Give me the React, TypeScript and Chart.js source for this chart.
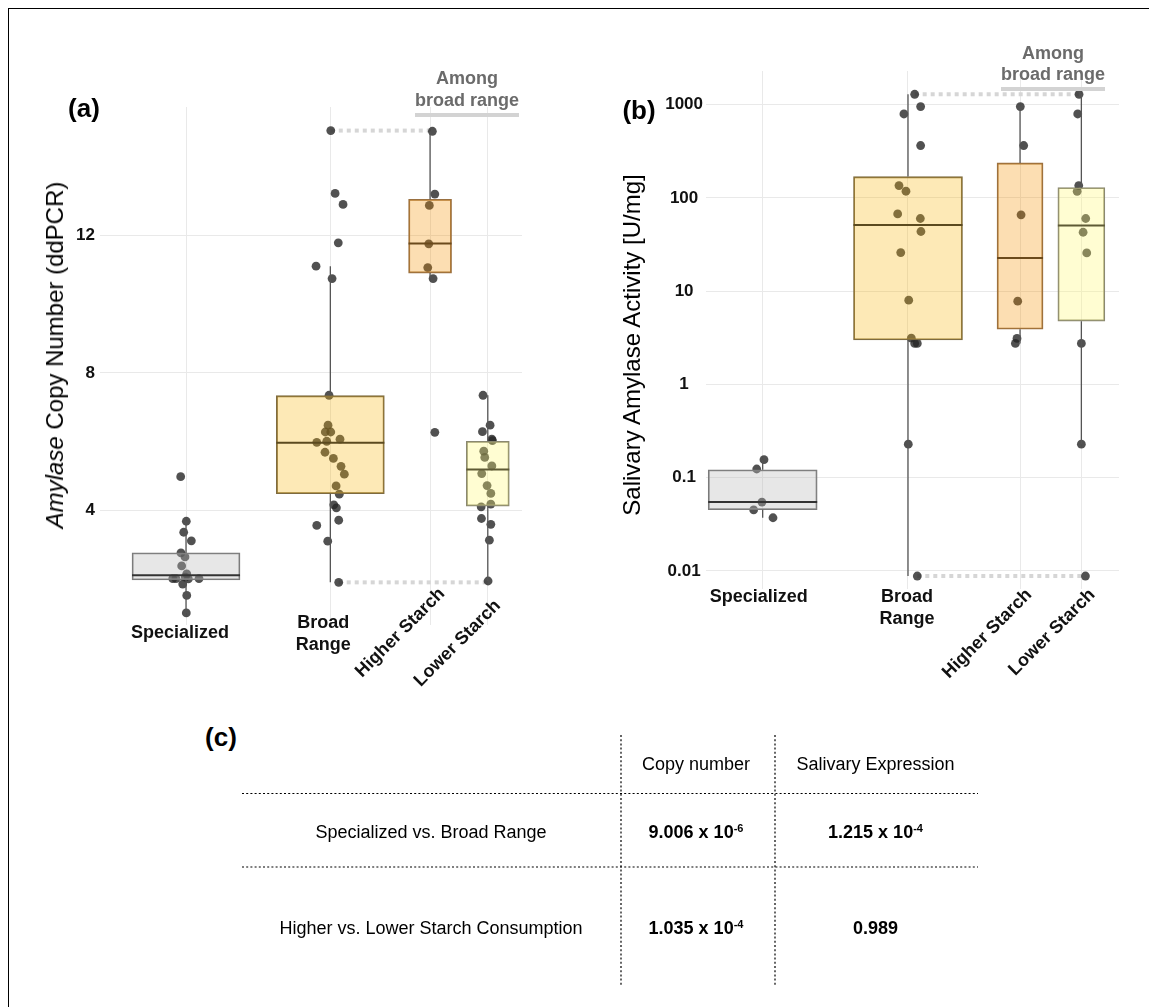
import React, { useEffect, useRef } from "react";
import { Chart, registerables } from "chart.js";

Chart.register(...registerables);

const FONT = '"Liberation Sans", Arial, Helvetica, sans-serif';

// ---------- categories ----------
const groupNames = ["Specialized", "Broad Range", "Higher Starch", "Lower Starch"];

// ---------- panel (a): copy number ----------
const positionsA = [1, 2, 2.691, 3.091];
const specA = [4.98, 3.68, 3.36, 3.11, 2.76, 2.64, 2.38, 2.15, 2.01, 2.01, 2.05, 2.0, 2.01, 1.85, 1.52, 1.01];
const specAJit = [-0.037, 0.002, -0.016, 0.037, -0.035, -0.007, -0.03, 0.005, -0.092, -0.07, -0.005, 0.016, 0.09, -0.023, 0.005, 0.002];
const broadA = [15.06, 13.23, 12.91, 11.79, 11.11, 10.75, 7.35, 6.48, 6.28, 6.28, 5.98, 6.01, 6.07, 5.69, 5.51, 5.28, 5.05, 4.71, 4.47, 4.16, 4.07, 3.71, 3.56, 3.1, 1.9];
const broadAJit = [0.003, 0.033, 0.088, 0.055, -0.099, 0.012, -0.009, -0.016, -0.035, 0.003, -0.094, -0.025, 0.067, -0.037, 0.021, 0.074, 0.097, 0.04, 0.062, 0.024, 0.042, 0.058, -0.094, -0.018, 0.058];
const higherA = [15.04, 13.21, 12.88, 11.76, 11.07, 10.75, 6.27];
const higherAJit = [0.016, 0.033, -0.005, -0.009, -0.016, 0.021, 0.033];
const lowerA = [7.35, 6.48, 6.29, 6.07, 6.03, 5.72, 5.54, 5.29, 5.07, 4.72, 4.49, 4.18, 4.1, 3.76, 3.59, 3.13, 1.94];
const lowerAJit = [-0.033, 0.016, -0.037, 0.028, 0.032, -0.028, -0.021, 0.028, -0.042, -0.005, 0.021, 0.021, -0.046, -0.044, 0.021, 0.011, 0.002];
const q1A = [1.97, 4.48, 10.91, 4.12];
const medA = [2.11, 5.97, 11.77, 5.19];
const q3A = [2.76, 7.34, 13.06, 6.01];
const loA = [1.01, 1.9, 10.75, 1.94];
const hiA = [3.68, 11.11, 15.04, 7.35];
const yTicksA = [4, 8, 12];
const yTickLabelsA = ["4", "8", "12"];

// ---------- panel (b): salivary amylase activity ----------
const positionsB = [1, 2, 2.771, 3.193];
const specB = [0.156, 0.124, 0.0548, 0.0453, 0.0372];
const specBJit = [0.009, -0.041, -0.005, -0.062, 0.071];
const broadB = [1290, 952, 793, 364, 135.6, 117.8, 67.3, 60.1, 43.6, 25.9, 8.0, 3.13, 2.75, 2.75, 0.229, 0.00883];
const broadBJit = [0.046, 0.087, -0.028, 0.087, -0.062, -0.014, -0.071, 0.085, 0.089, -0.05, 0.005, 0.023, 0.046, 0.064, 0.002, 0.064];
const higherB = [952, 364, 65.8, 7.8, 3.11, 2.75];
const higherBJit = [0.002, 0.025, 0.007, -0.016, -0.021, -0.032];
const lowerB = [1290, 793, 135.6, 117.5, 60.1, 42.8, 25.7, 2.75, 0.229, 0.00883];
const lowerBJit = [-0.016, -0.025, -0.018, -0.029, 0.03, 0.012, 0.037, 0, 0, 0.028];
const q1B = [0.0453, 3.0, 3.91, 4.77];
const medB = [0.0548, 51.3, 22.6, 50.5];
const q3B = [0.1216, 169, 237, 129];
const loB = [0.0372, 0.00883, 2.75, 0.229];
const hiB = [0.156, 1290, 952, 1290];
const yTicksB = [0.01, 0.1, 1, 10, 100, 1000];
const yTickLabelsB = ["0.01", "0.1", "1", "10", "100", "1000"];

// ---------- panel (c): p-value table ----------
const tableCols = ["Copy number", "Salivary Expression"];
const tableRows = ["Specialized vs. Broad Range", "Higher vs. Lower Starch Consumption"];
const pMantissa = [["9.006", "1.215"], ["1.035", "0.989"]];
const pExponent = [["-6", "-4"], ["-4", ""]];

// ---------- styles ----------
const BOX_FILL = ["rgba(185,185,185,0.35)", "rgba(248,183,12,0.30)", "rgba(245,145,0,0.30)", "rgba(255,248,115,0.32)"];
const BOX_BORDER = ["#7a7a7a", "#7d6a3f", "#9a7040", "#8a8870"];
const MEDIAN = ["#333333", "#5b4a1f", "#6b4a1c", "#5e5a35"];
const POINT = "rgba(38,38,38,0.8)";
const GRID = "#e9e9e9";

type Lab = { lines: string[]; rotate?: boolean; dx: number; dy: number };

type PanelCfg = {
  left: number; top: number; width: number; height: number;
  padTop: number; padRight: number; yAxisWidth: number; xAxisHeight: number;
  positions: number[]; xMin: number; xMax: number;
  yType: "linear" | "logarithmic"; yMin: number; yMax: number;
  yTicks: number[]; yTickLabels: string[]; yAlign: "near" | "center"; yPad: number;
  groups: { vals: number[]; jit: number[] }[];
  q1: number[]; med: number[]; q3: number[]; lo: number[]; hi: number[];
  boxWidths: number[];
  connectors: { from: number; to: number; kind: "max" | "min" }[];
  labels: Lab[];
};

const panelA: PanelCfg = {
  left: 0, top: 0, width: 560, height: 700,
  padTop: 107, padRight: 38, yAxisWidth: 100, xAxisHeight: 75,
  positions: positionsA, xMin: 0.404, xMax: 3.328,
  yType: "linear", yMin: 0.658, yMax: 15.747,
  yTicks: yTicksA, yTickLabels: yTickLabelsA, yAlign: "near", yPad: 5,
  groups: [
    { vals: specA, jit: specAJit },
    { vals: broadA, jit: broadAJit },
    { vals: higherA, jit: higherAJit },
    { vals: lowerA, jit: lowerAJit },
  ],
  q1: q1A, med: medA, q3: q3A, lo: loA, hi: hiA,
  boxWidths: [108, 108, 43, 43],
  connectors: [{ from: 1, to: 2, kind: "max" }, { from: 1, to: 3, kind: "min" }],
  labels: [
    { lines: ["Specialized"], dx: -6, dy: 8 },
    { lines: ["Broad", "Range"], dx: -7, dy: -2 },
    { lines: ["Higher Starch"], rotate: true, dx: 12, dy: -34 },
    { lines: ["Lower Starch"], rotate: true, dx: 10, dy: -22 },
  ],
};

const panelB: PanelCfg = {
  left: 560, top: 0, width: 589, height: 700,
  padTop: 71, padRight: 30, yAxisWidth: 146, xAxisHeight: 111,
  positions: positionsB, xMin: 0.61, xMax: 3.452,
  yType: "logarithmic", yMin: 0.00641, yMax: 2291,
  yTicks: yTicksB, yTickLabels: yTickLabelsB, yAlign: "center", yPad: 3,
  groups: [
    { vals: specB, jit: specBJit },
    { vals: broadB, jit: broadBJit },
    { vals: higherB, jit: higherBJit },
    { vals: lowerB, jit: lowerBJit },
  ],
  q1: q1B, med: medB, q3: q3B, lo: loB, hi: hiB,
  boxWidths: [109, 109, 46, 47],
  connectors: [{ from: 1, to: 3, kind: "max" }, { from: 1, to: 3, kind: "min" }],
  labels: [
    { lines: ["Specialized"], dx: -4, dy: 8 },
    { lines: ["Broad", "Range"], dx: -1, dy: 8 },
    { lines: ["Higher Starch"], rotate: true, dx: 9, dy: 3 },
    { lines: ["Lower Starch"], rotate: true, dx: 11, dy: 3 },
  ],
};

function extreme(cfg: PanelCfg, g: number, kind: "max" | "min") {
  const { vals, jit } = cfg.groups[g];
  let idx = 0;
  vals.forEach((v, i) => {
    if (kind === "max" ? v > vals[idx] : v < vals[idx]) idx = i;
  });
  return { x: cfg.positions[g] + jit[idx], y: vals[idx] };
}

function makePlugin(cfg: PanelCfg) {
  return {
    id: "boxExtras",
    afterDatasetsDraw(chart: any) {
      const { ctx } = chart;
      const xs = chart.scales.x;
      const ys = chart.scales.y;
      ctx.save();
      cfg.positions.forEach((p, i) => {
        const px = xs.getPixelForValue(p);
        ctx.strokeStyle = "#555555";
        ctx.lineWidth = 1.3;
        ctx.beginPath();
        ctx.moveTo(px, ys.getPixelForValue(cfg.hi[i]));
        ctx.lineTo(px, ys.getPixelForValue(cfg.q3[i]));
        ctx.moveTo(px, ys.getPixelForValue(cfg.q1[i]));
        ctx.lineTo(px, ys.getPixelForValue(cfg.lo[i]));
        ctx.stroke();
        const bar = chart.getDatasetMeta(i).data[0];
        const half = bar.width / 2;
        const my = ys.getPixelForValue(cfg.med[i]);
        ctx.strokeStyle = MEDIAN[i];
        ctx.lineWidth = 2;
        ctx.beginPath();
        ctx.moveTo(bar.x - half, my);
        ctx.lineTo(bar.x + half, my);
        ctx.stroke();
      });
      ctx.restore();
    },
    afterDraw(chart: any) {
      const { ctx, chartArea } = chart;
      const xs = chart.scales.x;
      ctx.save();
      ctx.fillStyle = "#111111";
      ctx.font = `bold 18px ${FONT}`;
      cfg.labels.forEach((lab, i) => {
        const px = xs.getPixelForValue(cfg.positions[i]);
        if (lab.rotate) {
          ctx.save();
          ctx.translate(px + lab.dx, chartArea.bottom + lab.dy);
          ctx.rotate(-Math.PI / 4);
          ctx.textAlign = "right";
          ctx.textBaseline = "middle";
          ctx.fillText(lab.lines[0], 0, 0);
          ctx.restore();
        } else {
          ctx.textAlign = "center";
          ctx.textBaseline = "middle";
          lab.lines.forEach((ln, j) => {
            ctx.fillText(ln, px + lab.dx, chartArea.bottom + lab.dy + j * 22.5);
          });
        }
      });
      ctx.restore();
    },
  };
}

function Panel({ cfg }: { cfg: PanelCfg }) {
  const ref = useRef<HTMLCanvasElement | null>(null);
  useEffect(() => {
    if (!ref.current) return;
    const boxSets = cfg.positions.map((p, i) => ({
      type: "bar" as const,
      label: groupNames[i] + " box",
      data: [{ x: p, y: [cfg.q1[i], cfg.q3[i]] }],
      backgroundColor: BOX_FILL[i],
      borderColor: BOX_BORDER[i],
      borderWidth: 1.2,
      borderSkipped: false as const,
      barThickness: cfg.boxWidths[i],
      grouped: false,
      order: 1,
    }));
    const pointSets = cfg.groups.map((g, i) => ({
      type: "scatter" as const,
      label: groupNames[i],
      data: g.vals.map((v, k) => ({ x: cfg.positions[i] + g.jit[k], y: v })),
      backgroundColor: POINT,
      borderWidth: 0,
      pointRadius: 4.4,
      order: 2,
    }));
    const connSets = cfg.connectors.map((c) => {
      const a = extreme(cfg, c.from, c.kind);
      const b = extreme(cfg, c.to, c.kind);
      return {
        type: "line" as const,
        label: "link " + c.kind,
        data: [{ x: a.x, y: a.y }, { x: b.x, y: a.y }],
        borderColor: "#d6d6d6",
        borderWidth: 4,
        borderDash: [4, 4],
        borderCapStyle: "butt" as const,
        pointRadius: 0,
        fill: false,
        order: 3,
      };
    });
    const chart = new Chart(ref.current, {
      type: "bar",
      data: { datasets: [...boxSets, ...pointSets, ...connSets] as any },
      options: {
        animation: false,
        responsive: false,
        devicePixelRatio: 1,
        events: [],
        layout: { padding: { top: cfg.padTop, right: cfg.padRight, left: 0, bottom: 0 } },
        plugins: { legend: { display: false }, tooltip: { enabled: false } },
        scales: {
          x: {
            type: "linear",
            offset: false,
            min: cfg.xMin,
            max: cfg.xMax,
            grid: { color: GRID, lineWidth: 1, drawTicks: false, offset: false },
            border: { display: false },
            ticks: { display: false },
            afterBuildTicks: (s: any) => {
              s.ticks = cfg.positions.map((v) => ({ value: v }));
            },
            afterFit: (s: any) => {
              s.height = cfg.xAxisHeight;
            },
          },
          y: {
            type: cfg.yType,
            min: cfg.yMin,
            max: cfg.yMax,
            grid: { color: GRID, lineWidth: 1, drawTicks: false },
            border: { display: false },
            ticks: {
              color: "#111111",
              font: { family: FONT, size: 17, weight: "bold" },
              padding: cfg.yPad,
              crossAlign: cfg.yAlign,
              callback: (_v: any, idx: number) => cfg.yTickLabels[idx],
            },
            afterBuildTicks: (s: any) => {
              s.ticks = cfg.yTicks.map((v) => ({ value: v }));
            },
            afterFit: (s: any) => {
              s.width = cfg.yAxisWidth;
            },
          },
        } as any,
      },
      plugins: [makePlugin(cfg)],
    });
    return () => chart.destroy();
  }, [cfg]);
  return (
    <canvas
      ref={ref}
      width={cfg.width}
      height={cfg.height}
      style={{ position: "absolute", left: cfg.left, top: cfg.top, width: cfg.width, height: cfg.height }}
    />
  );
}

const abs = (x: number, y: number, extra: React.CSSProperties = {}): React.CSSProperties => ({
  position: "absolute",
  left: x,
  top: y,
  transform: "translate(-50%, -50%)",
  whiteSpace: "nowrap",
  ...extra,
});

function Among({ cx, y1, y2, bar, x0, x1 }: { cx: number; y1: number; y2: number; bar: number; x0: number; x1: number }) {
  const st: React.CSSProperties = { fontWeight: "bold", fontSize: 18, color: "#6b6b6b", lineHeight: "20px" };
  return (
    <>
      <div style={abs(cx, y1, st)}>Among</div>
      <div style={abs(cx, y2, st)}>broad range</div>
      <div style={{ position: "absolute", left: x0, top: bar - 2, width: x1 - x0, height: 4, background: "#d3d3d3" }} />
    </>
  );
}

export default function App() {
  const colX = [431, 696, 875.5];
  const headerY = 764;
  const rowY = [832, 927.5];
  return (
    <div
      style={{
        position: "absolute",
        left: 0,
        top: 0,
        width: 1149,
        height: 1007,
        overflow: "hidden",
        background: "#ffffff",
        fontFamily: FONT,
        color: "#000",
      }}
    >
      <div style={{ position: "absolute", left: 8, top: 8, width: 1141, height: 999, borderLeft: "1px solid #000", borderTop: "1px solid #000" }} />
      <Panel cfg={panelA} />
      <Panel cfg={panelB} />

      {/* panel labels */}
      <div style={abs(84, 108, { fontWeight: "bold", fontSize: 26 })}>(a)</div>
      <div style={abs(639, 110, { fontWeight: "bold", fontSize: 26 })}>(b)</div>
      <div style={abs(221, 737, { fontWeight: "bold", fontSize: 26 })}>(c)</div>

      {/* axis titles */}
      <div style={{ ...abs(55, 355, { fontSize: 24 }), transform: "translate(-50%, -50%) rotate(-90deg)" }}>
        <i>Amylase</i> Copy Number (ddPCR)
      </div>
      <div style={{ ...abs(632, 345, { fontSize: 24 }), transform: "translate(-50%, -50%) rotate(-90deg)" }}>
        Salivary Amylase Activity [U/mg]
      </div>

      {/* group annotations */}
      <Among cx={467} y1={78} y2={99.5} bar={114.5} x0={415} x1={519} />
      <Among cx={1053} y1={52.5} y2={73.5} bar={89} x0={1001} x1={1105} />

      {/* table (c) */}
      <svg style={{ position: "absolute", left: 0, top: 0 }} width={1149} height={1007}>
        <g stroke="#000" strokeWidth={1.2} strokeDasharray="2 2.2">
          <line x1={621} y1={735} x2={621} y2={985} />
          <line x1={775} y1={735} x2={775} y2={985} />
          <line x1={242} y1={793.5} x2={978} y2={793.5} />
          <line x1={242} y1={867} x2={978} y2={867} />
        </g>
      </svg>
      {tableCols.map((c, j) => (
        <div key={c} style={abs(colX[j + 1], headerY, { fontSize: 18 })}>{c}</div>
      ))}
      {tableRows.map((r, i) => (
        <React.Fragment key={r}>
          <div style={abs(colX[0], rowY[i], { fontSize: 18 })}>{r}</div>
          {pMantissa[i].map((m, j) => (
            <div key={j} style={abs(colX[j + 1], rowY[i], { fontSize: 18, fontWeight: "bold" })}>
              {m}
              {pExponent[i][j] ? (
                <>
                  {" x 10"}
                  <sup style={{ fontSize: 11, verticalAlign: "6px", lineHeight: 0 }}>{pExponent[i][j]}</sup>
                </>
              ) : null}
            </div>
          ))}
        </React.Fragment>
      ))}
    </div>
  );
}
